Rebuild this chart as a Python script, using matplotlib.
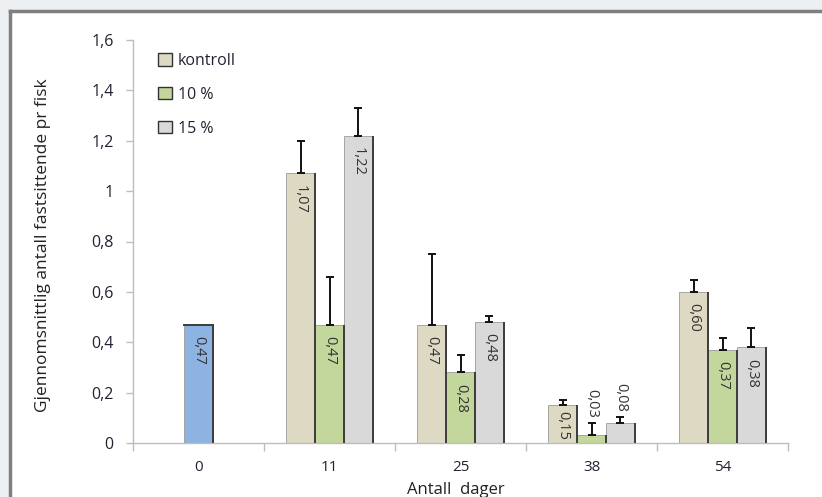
import numpy as np
import matplotlib
matplotlib.use("Agg")
import matplotlib.pyplot as plt
from matplotlib.patches import Rectangle, Patch
from matplotlib.lines import Line2D

# ---------------- data ----------------
days = ["0", "11", "25", "38", "54"]
series_names = ["kontroll", "10 %", "15 %"]
start_value = 0.47            # day 0 (single bar)
kontroll = [1.07, 0.47, 0.15, 0.60]   # days 11, 25, 38, 54
pct10 = [0.47, 0.28, 0.03, 0.37]
pct15 = [1.22, 0.48, 0.08, 0.38]
kontroll_err = [0.13, 0.28, 0.02, 0.047]
pct10_err = [0.19, 0.07, 0.05, 0.045]
pct15_err = [0.11, 0.025, 0.025, 0.075]
yticks = [0, 0.2, 0.4, 0.6, 0.8, 1.0, 1.2, 1.4, 1.6]
ytick_labels = ["0", "0,2", "0,4", "0,6", "0,8", "1", "1,2", "1,4", "1,6"]
ylabel = "Gjennomsnittlig antall fastsittende pr fisk"
xlabel = "Antall  dager"

colors = ["#ddd9c3", "#c3d69b", "#d9d9d9"]
start_color = "#8db3e2"

plt.rcParams["font.family"] = ["Open Sans", "DejaVu Sans"]

W, H = 822, 497
fig = plt.figure(figsize=(W / 100, H / 100), dpi=100)
fig.patch.set_facecolor("#edf0f3")

# white panel with dark frame on left and top (screenshot border)
fx, fy = 10 / W, 1 - 11 / H
panel = Rectangle((fx, 0), 1 - fx, fy, transform=fig.transFigure,
                  facecolor="white", edgecolor="none", zorder=-10)
fig.patches.append(panel)
fig.add_artist(Line2D([fx, fx], [0, fy], transform=fig.transFigure,
                      color="#7f7f7f", lw=2.5, zorder=-5))
fig.add_artist(Line2D([fx, 1], [fy, fy], transform=fig.transFigure,
                      color="#7f7f7f", lw=2.5, zorder=-5))

ax = fig.add_axes([133 / W, 1 - 443 / H, 655 / W, 403 / H])
ax.set_facecolor("none")
ax.set_zorder(5)

x = np.arange(len(days))
xs = x[1:]
bw = 0.221
offsets = [-bw, 0.0, bw]
txtcol = "#333333"

bars_all = []
# day 0 bar
b0 = ax.bar([x[0]], [start_value], width=bw, color=start_color, edgecolor="#9a9a9a",
            linewidth=0.6, zorder=2)
bars_all.append((b0, [start_value], [0.0]))

for vals, errs, off, col in zip([kontroll, pct10, pct15],
                                [kontroll_err, pct10_err, pct15_err],
                                offsets, colors):
    b = ax.bar(xs + off, vals, width=bw, color=col, edgecolor="#9a9a9a",
               linewidth=0.6, zorder=2)
    ax.errorbar(xs + off, vals, yerr=[np.zeros(len(vals)), errs], fmt="none",
                ecolor="#111111", elinewidth=1.4, capsize=3.2, capthick=1.4, zorder=3)
    bars_all.append((b, vals, errs))

# dark top edge on the day-0 bar
p0 = b0.patches[0]
ax.plot([p0.get_x(), p0.get_x() + p0.get_width()], [start_value, start_value],
        color="#3c3c3c", lw=1.4, zorder=3)

# dark right-edge shading + value labels
for b, vals, errs in bars_all:
    for p, v, e in zip(b.patches, vals, errs):
        xr = p.get_x() + p.get_width()
        ax.plot([xr, xr], [0, v], color="#3c3c3c", lw=1.4, zorder=3,
                solid_capstyle="butt")
        xc = p.get_x() + p.get_width() / 2
        lab = f"{v:.2f}".replace(".", ",")
        if v >= 0.2:
            ax.text(xc, v - 0.045, lab, rotation=270, ha="center", va="top",
                    fontsize=10.5, color=txtcol, zorder=4)
        elif v >= 0.12:
            ax.text(xc, 0.01, lab, rotation=270, ha="center", va="bottom",
                    fontsize=10.5, color=txtcol, zorder=4)
        else:
            ax.text(xc, v + e + 0.02, lab, rotation=270, ha="center", va="bottom",
                    fontsize=10.5, color=txtcol, zorder=4)

ax.set_xlim(-0.5, len(days) - 0.5)
ax.set_ylim(0, 1.6)
ax.set_yticks(yticks)
ax.set_yticklabels(ytick_labels)
ax.set_xticks(x)
ax.set_xticklabels(days)
ax.set_xticks(np.arange(-0.5, len(days), 1.0), minor=True)

for s in ["top", "right"]:
    ax.spines[s].set_visible(False)
for s in ["left", "bottom"]:
    ax.spines[s].set_color("#bdbdbd")
    ax.spines[s].set_linewidth(1.0)

ax.tick_params(axis="y", direction="out", length=5, width=1.0, color="#bdbdbd",
               labelsize=11.5, labelcolor="#222233", pad=9)
ax.tick_params(axis="x", which="major", length=0, labelsize=11,
               labelcolor="#222233", pad=12)
ax.tick_params(axis="x", which="minor", direction="out", length=6, width=1.0,
               color="#bdbdbd")

fig.text(43 / W, 1 - 245 / H, ylabel, rotation=90, ha="center", va="center",
         fontsize=12.5, color="#222222")
fig.text(456 / W, 1 - 490 / H, xlabel, ha="center", va="center",
         fontsize=12, color="#222222")

handles = [Patch(facecolor=c, edgecolor="#333333", linewidth=1.0) for c in colors]
leg = ax.legend(handles, series_names, loc="upper left",
                bbox_to_anchor=((158 - 133) / 655, (443 - 53) / 403),
                frameon=False, fontsize=11.5, handlelength=0.9, handleheight=0.8,
                handletextpad=0.35, labelspacing=1.12, borderpad=0, borderaxespad=0)
for t in leg.get_texts():
    t.set_color("#222233")

fig.savefig("out.png", dpi=100, facecolor=fig.get_facecolor())
